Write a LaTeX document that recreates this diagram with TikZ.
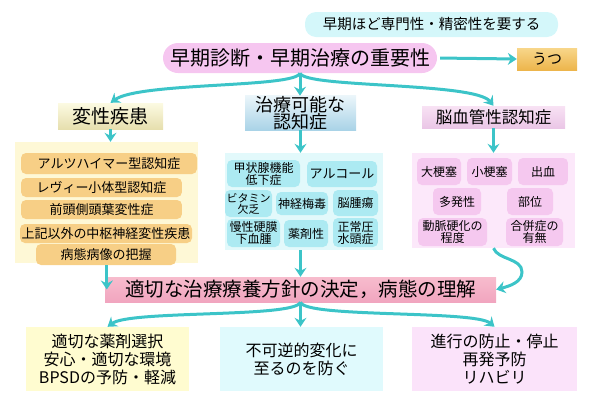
\documentclass[tikz,border=0pt]{standalone}
\usepackage{fontspec}
\setmainfont{Noto Sans CJK JP}
\usetikzlibrary{arrows.meta}
\definecolor{arr}{HTML}{3CC4C8}
\definecolor{cnote}{HTML}{D4F7FA}
\definecolor{contL}{HTML}{FEF8D6}
\definecolor{contM}{HTML}{E2F9FB}
\definecolor{contR}{HTML}{FCE8FA}
\definecolor{outL}{HTML}{FFFCD0}
\definecolor{outM}{HTML}{E0FAFD}
\definecolor{outR}{HTML}{FBE3FA}
\definecolor{mainE}{HTML}{F6C6F0}
\definecolor{mainC}{HTML}{FCE9FA}
\definecolor{utsuT}{HTML}{F8D68A}
\definecolor{utsuB}{HTML}{EDB54C}
\definecolor{orE}{HTML}{F7CF86}
\definecolor{orC}{HTML}{FDEBC8}
\definecolor{cyE}{HTML}{ACEAF2}
\definecolor{cyC}{HTML}{D8F7FA}
\definecolor{pkE}{HTML}{F5C8EF}
\definecolor{pkC}{HTML}{FCE9FA}
\definecolor{decT}{HTML}{F7BCCD}
\definecolor{decC}{HTML}{FFF2F5}
\definecolor{decB}{HTML}{F1A5BF}
\definecolor{h1T}{HTML}{FCFAE2}
\definecolor{h1B}{HTML}{E6DFAE}
\definecolor{h2T}{HTML}{EAF5FA}
\definecolor{h2B}{HTML}{A9D3E7}
\definecolor{h3T}{HTML}{F8E2F4}
\definecolor{h3B}{HTML}{EAC6E6}
\newcommand\myfs[2]{\fontsize{#1}{#2}\selectfont}
\begin{document}
\begin{tikzpicture}[x=1pt,y=-1pt,
  box/.style={inner sep=0pt, align=center, text=black},
  hdr/.style={box},
  cont/.style={inner sep=0pt},
  itemL/.style={box, rounded corners=5pt, top color=orE, middle color=orC, bottom color=orE, font=\myfs{13}{14}},
  itemM/.style={box, rounded corners=5pt, top color=cyE, middle color=cyC, bottom color=cyE, font=\myfs{12}{12}},
  itemR/.style={box, rounded corners=5pt, top color=pkE, middle color=pkC, bottom color=pkE, font=\myfs{12}{12}},
  outbox/.style={box, minimum width=163pt, minimum height=64pt, font=\myfs{16}{18}},
  conn/.style={draw=arr, line width=3pt, -{Stealth[length=9pt,width=12pt,inset=3pt]}}
]
\useasboundingbox (0,0) rectangle (600,405);

% top
\node[box, fill=cnote, rounded corners=11pt, minimum width=253pt, minimum height=25pt, font=\myfs{14.5}{15}] (note) at (431.5,24.5) {早期ほど専門性・精密性を要する};
\node[box, rounded corners=15pt, top color=mainE, middle color=mainC, bottom color=mainE, minimum width=274pt, minimum height=30pt, font=\myfs{20}{20}] (main) at (300,58) {早期診断・早期治療の重要性};
\node[box, top color=utsuT, bottom color=utsuB, minimum width=60pt, minimum height=22pt, font=\myfs{15}{15}] (utsu) at (547,59) {うつ};

% headers
\node[hdr, top color=h1T, bottom color=h1B, minimum width=105pt, minimum height=26pt, font=\myfs{19}{19}] (h1) at (110.5,116) {変性疾患};
\node[hdr, top color=h2T, bottom color=h2B, minimum width=111pt, minimum height=34pt, font=\myfs{18}{15}] (h2) at (300.5,113) {治療可能な\\認知症};
\node[hdr, top color=h3T, bottom color=h3B, minimum width=143pt, minimum height=22pt, font=\myfs{16.5}{16.5}] (h3) at (493.5,117) {脳血管性認知症};

% containers
\node[cont, fill=contL, minimum width=183pt, minimum height=121pt] (c1) at (106.5,202.5) {};
\node[cont, fill=contM, minimum width=158pt, minimum height=97pt] (c2) at (304,201.5) {};
\node[cont, fill=contR, minimum width=163pt, minimum height=95pt] (c3) at (493.5,200.5) {};

% left items
\node[itemL, minimum width=176pt, minimum height=21pt] (a1) at (109,163.5) {アルツハイマー型認知症};
\node[itemL, minimum width=161pt, minimum height=19pt] (a2) at (101.5,187.5) {レヴィー小体型認知症};
\node[itemL, minimum width=161pt, minimum height=19pt] (a3) at (101.5,209.5) {前頭側頭葉変性症};
\node[itemL, minimum width=172pt, minimum height=19pt] (a4) at (106,233.5) {上記以外の中枢神経変性疾患};
\node[itemL, minimum width=140pt, minimum height=21pt] (a5) at (106,254.5) {病態病像の把握};

% middle items
\node[itemM, minimum width=73pt, minimum height=27pt] (b1) at (263.5,173.5) {甲状腺機能\\低下症};
\node[itemM, minimum width=70pt, minimum height=26pt, font=\myfs{13}{13}] (b2) at (342,174) {アルコール};
\node[itemM, minimum width=47pt, minimum height=27pt, font=\myfs{11}{11}] (b3) at (248.5,203.5) {ビタミン\\欠乏};
\node[itemM, minimum width=52pt, minimum height=23pt] (b4) at (302,203.5) {神経梅毒};
\node[itemM, minimum width=45pt, minimum height=26pt] (b5) at (355.5,203) {脳腫瘍};
\node[itemM, minimum width=53pt, minimum height=28pt] (b6) at (253.5,233) {慢性硬膜\\下血腫};
\node[itemM, minimum width=44pt, minimum height=27pt] (b7) at (306,233.5) {薬剤性};
\node[itemM, minimum width=45pt, minimum height=29pt] (b8) at (355.5,232.5) {正常圧\\水頭症};

% right items
\node[itemR, minimum width=44pt, minimum height=27pt] (r1) at (439,171.5) {大梗塞};
\node[itemR, minimum width=45pt, minimum height=27pt] (r2) at (489.5,171.5) {小梗塞};
\node[itemR, minimum width=50pt, minimum height=27pt] (r3) at (543,171.5) {出血};
\node[itemR, minimum width=48pt, minimum height=27pt] (r4) at (457,201.5) {多発性};
\node[itemR, minimum width=46pt, minimum height=27pt] (r5) at (530,201.5) {部位};
\node[itemR, minimum width=69pt, minimum height=28pt] (r6) at (452.5,232) {動脈硬化の\\程度};
\node[itemR, minimum width=57pt, minimum height=28pt] (r7) at (534.5,232) {合併症の\\有無};

% decision
\node[box, top color=decT, middle color=decC, bottom color=decB, minimum width=391pt, minimum height=25pt, font=\myfs{19.5}{19.5}] (dec) at (300.5,289.5) {適切な治療療養方針の決定，病態の理解};

% outcomes
\node[outbox, fill=outL] (o1) at (107.5,359) {適切な薬剤選択\\安心・適切な環境\\BPSDの予防・軽減};
\node[outbox, fill=outM] (o2) at (301.5,359) {不可逆的変化に\\至るのを防ぐ};
\node[outbox, fill=outR, minimum width=165pt] (o3) at (494.5,359) {進行の防止・停止\\再発予防\\リハビリ};

% connectors
\draw[conn, shorten <=3pt] (main.east) -- (utsu.west);
\draw[conn] (main.south) .. controls (295,88) and (140,82) .. (h1.north);
\draw[conn] (main.south) -- (main.south |- h2.north);
\draw[conn] (main.south) .. controls (305,88) and (475,82) .. (h3.north);
\draw[conn] (h1.south) -- (h1.south |- c1.north);
\draw[conn] (h2.south) -- (h2.south |- c2.north);
\draw[conn] (h3.south) -- (h3.south |- c3.north);
\draw[conn] ([xshift=2pt]dec.west |- a5.south) -- ([xshift=2pt]dec.west);
\draw[conn] (dec.north |- c2.south) -- (dec.north);
\draw[conn] (h3.south |- c3.south) .. controls (498,260) and (522,258) .. (522,272) .. controls (522,282) and (510,286) .. (dec.east);
\draw[conn] (dec.south) .. controls (295,318) and (130,310) .. (o1.north);
\draw[conn] (dec.south) -- (dec.south |- o2.north);
\draw[conn] (dec.south) .. controls (305,318) and (475,310) .. (o3.north);
\end{tikzpicture}
\end{document}
